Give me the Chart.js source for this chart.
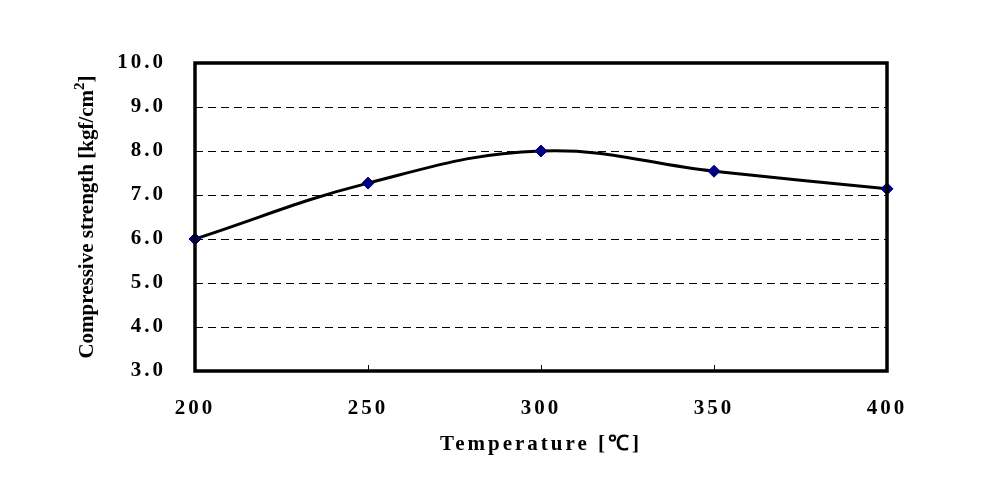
<!DOCTYPE html>
<html>
<head>
<meta charset="utf-8">
<script src="https://cdn.jsdelivr.net/npm/chart.js@4"></script>
<style>
  html, body { margin: 0; padding: 0; background: #fff; }
  #wrap { width: 986px; height: 482px; }
</style>
</head>
<body>
<div id="wrap"><canvas id="myChart" width="986" height="482"></canvas></div>
<script>
const temperatures = [200, 250, 300, 350, 400];
const strength = [6.0, 7.27, 8.0, 7.54, 7.14];
const xTitle = 'Temperature [\u2103]';
const yTitle = 'Compressive strength [kgf/cm';
const yTitleSup = '2';

const SERIF = "'Liberation Serif', 'Times New Roman', serif";

// box, inner tick marks and the rotated y title
const boxPlugin = {
  id: 'box',
  beforeDraw(chart) {
    chart.ctx.letterSpacing = '3px'; // excel-like wide labels
  },
  afterDraw(chart) {
    const ctx = chart.ctx;
    const a = chart.chartArea;
    const xs = chart.scales.x;
    ctx.save();
    ctx.strokeStyle = '#000';
    ctx.lineWidth = 1;
    temperatures.forEach(function(t) {
      const px = Math.round(xs.getPixelForValue(t)) + 0.5;
      ctx.beginPath();
      ctx.moveTo(px, a.bottom);
      ctx.lineTo(px, a.bottom - 6);
      ctx.stroke();
    });
    ctx.lineWidth = 3.5;
    ctx.strokeRect(a.left, a.top, a.right - a.left, a.bottom - a.top);

    // y title
    ctx.letterSpacing = '0px';
    ctx.translate(88, (a.top + a.bottom) / 2);
    ctx.rotate(-Math.PI / 2);
    ctx.fillStyle = '#000';
    ctx.textBaseline = 'middle';
    ctx.font = 'bold 21px ' + SERIF;
    const w1 = ctx.measureText(yTitle).width;
    ctx.font = 'bold 15px ' + SERIF;
    const w2 = ctx.measureText(yTitleSup).width;
    ctx.font = 'bold 21px ' + SERIF;
    const w3 = ctx.measureText(']').width;
    let x0 = -(w1 + w2 + w3) / 2;
    ctx.textAlign = 'left';
    ctx.fillText(yTitle, x0, 0);
    ctx.font = 'bold 15px ' + SERIF;
    ctx.fillText(yTitleSup, x0 + w1, -8);
    ctx.font = 'bold 21px ' + SERIF;
    ctx.fillText(']', x0 + w1 + w2, 0);
    ctx.restore();
  }
};

const ctx = document.getElementById('myChart').getContext('2d');
const chart = new Chart(ctx, {
  type: 'line',
  data: {
    datasets: [{
      data: temperatures.map((t, i) => ({ x: t, y: strength[i] })),
      borderColor: '#000',
      borderWidth: 3,
      tension: 0.4,
      pointStyle: 'rectRot',
      pointRadius: 6,
      pointBackgroundColor: '#000080',
      pointBorderColor: '#000080',
      pointBorderWidth: 1,
      clip: false
    }]
  },
  options: {
    responsive: false,
    animation: false,
    devicePixelRatio: 1,
    layout: { padding: { left: 60, top: 63, right: 99, bottom: 0 } },
    plugins: { legend: { display: false }, tooltip: { enabled: false } },
    scales: {
      x: {
        type: 'linear',
        min: 200,
        max: 400,
        grid: { display: false },
        border: { display: false },
        ticks: {
          stepSize: 50,
          padding: 17,
          color: '#000',
          font: { family: SERIF, size: 21, weight: 'bold' }
        },
        title: {
          display: true,
          text: xTitle,
          color: '#000',
          padding: { top: 0, bottom: 25 },
          font: { family: SERIF, size: 21, weight: 'bold' }
        },
        afterFit: function(s) { s.height = 111; }
      },
      y: {
        min: 3,
        max: 10,
        grid: {
          color: '#000',
          lineWidth: 1,
          drawTicks: false
        },
        border: { display: false, dash: [8, 5] },
        ticks: {
          stepSize: 1,
          padding: 29,
          color: '#000',
          font: { family: SERIF, size: 21, weight: 'bold' },
          callback: v => v.toFixed(1)
        },
        afterFit: function(s) { s.width = 135; }
      }
    }
  },
  plugins: [boxPlugin]
});
</script>
</body>
</html>
